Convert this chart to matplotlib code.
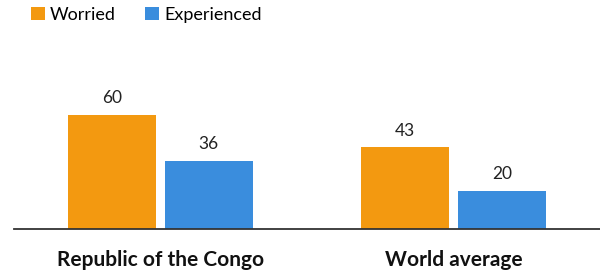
import matplotlib
matplotlib.use("Agg")
import matplotlib.pyplot as plt
import numpy as np

plt.rcParams["font.family"] = ["Lato", "DejaVu Sans"]

CATEGORIES = ["Republic of the Congo", "World average"]
SERIES = ["Worried", "Experienced"]
WORRIED = [60, 43]
EXPERIENCED = [36, 20]
COLORS = ["#f39910", "#3a8ddd"]

fig = plt.figure(figsize=(6, 2.73), dpi=100)
ax = fig.add_axes([14 / 600, 44 / 273, 586 / 600, 190 / 273])

x = np.arange(len(CATEGORIES))
width = 0.30
offset = 0.165

for vals, off, color, name in [(WORRIED, -offset, COLORS[0], SERIES[0]),
                               (EXPERIENCED, offset, COLORS[1], SERIES[1])]:
    bars = ax.bar(x + off, vals, width, color=color, label=name, zorder=2)
    for b, v in zip(bars, vals):
        ax.text(b.get_x() + b.get_width() / 2, v + 4.5, str(v),
                ha="center", va="bottom", fontsize=12.5, color="#222222")

ax.set_xlim(-0.5, 1.5)
ax.set_ylim(0, 100)
ax.set_yticks([])
ax.set_xticks(x)
ax.set_xticklabels(CATEGORIES, fontsize=15, fontweight="bold", color="#111111")
ax.tick_params(axis="x", length=0, pad=15)
for s in ["top", "right", "left"]:
    ax.spines[s].set_visible(False)
ax.spines["bottom"].set_color("#333333")
ax.spines["bottom"].set_linewidth(1.3)

leg = fig.legend(loc="upper left", bbox_to_anchor=(0.025, 1.035), ncol=2,
                 frameon=False, fontsize=13, handlelength=0.75, handleheight=0.75,
                 handletextpad=0.3, columnspacing=1.6)

fig.savefig("out.png", dpi=100)
